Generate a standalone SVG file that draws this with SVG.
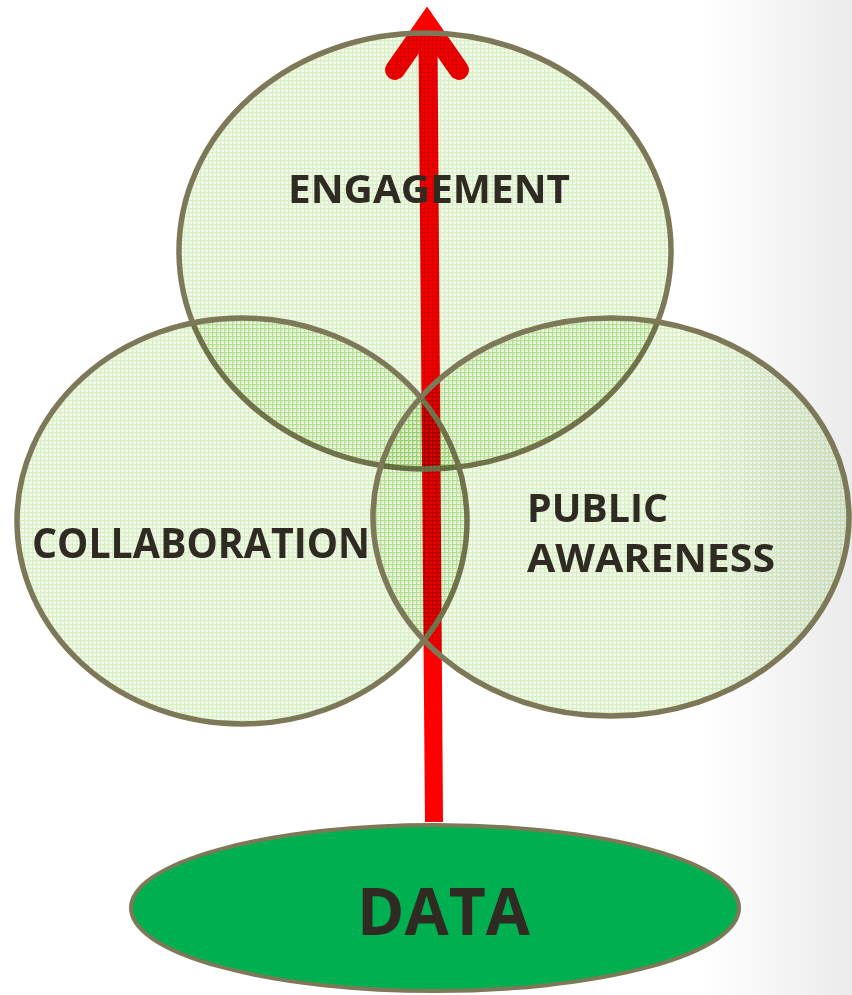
<svg xmlns="http://www.w3.org/2000/svg" width="852" height="995" viewBox="0 0 852 995">
  <defs>
    <linearGradient id="bg" x1="0" y1="0" x2="1" y2="0">
      <stop offset="0" stop-color="#ffffff"/>
      <stop offset="0.82" stop-color="#ffffff"/>
      <stop offset="1" stop-color="#ebebeb"/>
    </linearGradient>
    <pattern id="grid" width="4" height="4" patternUnits="userSpaceOnUse">
      <rect width="4" height="4" fill="#f4faee"/>
      <path d="M0 0.6H4M0.6 0V4" stroke="#d8eec3" stroke-width="1.2"/>
    </pattern>
    <style>
      .fill { fill: url(#grid); stroke: none; mix-blend-mode: multiply; }
      .edge { fill: none; stroke: #7d7858; stroke-width: 5.5; }
      .lbl { font-family: "Open Sans", "Liberation Sans", sans-serif; font-weight: bold; fill: #2f2a22; }
    </style>
  </defs>
  <rect width="852" height="995" fill="url(#bg)"/>

  <g id="connectors">
    <polygon points="418.5,40 437.5,40 443,822 425,822" fill="#ff0000"/>
    <polyline points="395,70 427,24 459,70" fill="none" stroke="#ff0000" stroke-width="20" stroke-linecap="round" stroke-linejoin="miter" stroke-miterlimit="10"/>
  </g>

  <g id="engagement">
    <ellipse class="fill" cx="425" cy="251" rx="246" ry="218"/>
    <ellipse class="edge" cx="425" cy="251" rx="246" ry="218"/>
  </g>
  <g id="collaboration">
    <ellipse class="fill" cx="242" cy="521" rx="225" ry="203"/>
    <ellipse class="edge" cx="242" cy="521" rx="225" ry="203"/>
  </g>
  <g id="public-awareness">
    <ellipse class="fill" cx="611" cy="517" rx="238" ry="199"/>
    <ellipse class="edge" cx="611" cy="517" rx="238" ry="199"/>
  </g>
  <g id="labels">
    <text class="lbl" x="288" y="203" font-size="40" textLength="282" lengthAdjust="spacingAndGlyphs">ENGAGEMENT</text>
    <text class="lbl" x="32" y="558" font-size="41" textLength="338" lengthAdjust="spacingAndGlyphs">COLLABORATION</text>
    <text class="lbl" x="527" y="522" font-size="40" textLength="141" lengthAdjust="spacingAndGlyphs">PUBLIC</text>
    <text class="lbl" x="527" y="572" font-size="40" textLength="248" lengthAdjust="spacingAndGlyphs">AWARENESS</text>
  </g>
  <g id="data">
    <ellipse cx="435" cy="908" rx="304" ry="83" fill="#00af50" stroke="#7d7858" stroke-width="4"/>
    <text class="lbl" x="357" y="935" font-size="67" textLength="173" lengthAdjust="spacingAndGlyphs">DATA</text>
  </g>
</svg>
